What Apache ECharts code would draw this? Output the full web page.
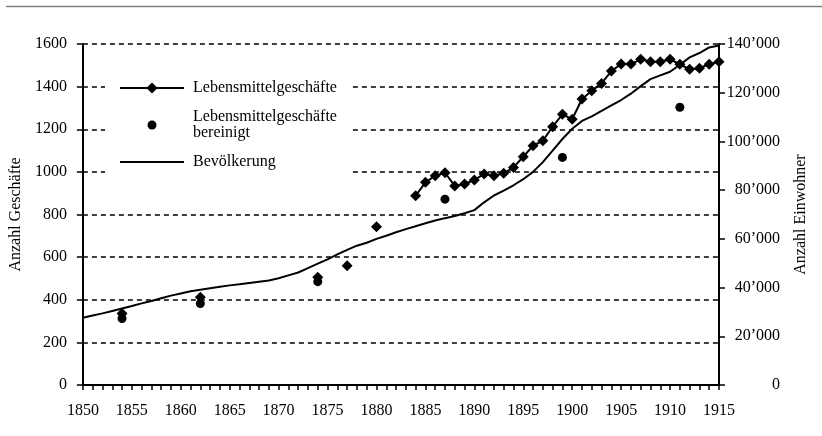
<!DOCTYPE html>
<html lang="de">
<head>
<meta charset="UTF-8">
<title>Lebensmittelgeschäfte und Bevölkerung 1850–1915</title>
<script src="https://cdn.jsdelivr.net/npm/echarts@6/dist/echarts.min.js"></script>
<style>
  html, body { margin: 0; padding: 0; background: #fff; }
  #chart { width: 822px; height: 436px; }
</style>
</head>
<body>
<div id="chart"></div>
<script>
// Lebensmittelgeschäfte: einzelne Stichjahre, dann jährlich ab 1884
var storeYears = [1854, 1862, 1874, 1877, 1880,
  1884, 1885, 1886, 1887, 1888, 1889, 1890, 1891, 1892, 1893, 1894,
  1895, 1896, 1897, 1898, 1899, 1900, 1901, 1902, 1903, 1904, 1905,
  1906, 1907, 1908, 1909, 1910, 1911, 1912, 1913, 1914, 1915];
var storeCounts = [336, 412, 505, 560, 743,
  888, 951, 982, 996, 934, 943, 962, 990, 982, 993, 1021,
  1071, 1123, 1146, 1212, 1270, 1247, 1342, 1381, 1415, 1473, 1506,
  1506, 1528, 1517, 1517, 1528, 1505, 1481, 1486, 1505, 1517];

// Lebensmittelgeschäfte bereinigt
var adjYears = [1854, 1862, 1874, 1887, 1899, 1911];
var adjCounts = [312, 382, 485, 872, 1068, 1303];

// Bevölkerung, jährlich 1850-1915
var popFirstYear = 1850;
var popValues = [
  27600, 28500, 29400, 30400, 31400, 32400, 33500, 34500, 35600, 36700,
  37600, 38500, 39100, 39700, 40300, 40900, 41400, 41900, 42400, 42900,
  43800, 45000, 46200, 48000, 49800, 51600, 53600, 55500, 57200, 58400,
  60000, 61300, 62700, 64000, 65200, 66400, 67500, 68500, 69400, 70500,
  71800, 75000, 77800, 79800, 82000, 84500, 87500, 91500, 96200, 101000,
  105200, 108400, 110300, 112500, 114800, 117000, 119600, 122700, 125600, 127100,
  128600, 131500, 134500, 136300, 138600, 139400];

var FONT = "'Liberation Serif', 'DejaVu Serif', serif";

// Lücken zwischen den Stichjahren, damit nur die Reihe ab 1884 verbunden ist
var storeData = [];
for (var i = 0; i < storeYears.length; i++) {
  if (i > 0 && storeYears[i] - storeYears[i - 1] > 1) {
    storeData.push([storeYears[i] - 0.5, '-']);
  }
  storeData.push([storeYears[i], storeCounts[i]]);
}
var adjData = adjYears.map(function (y, k) { return [y, adjCounts[k]]; });
var popData = popValues.map(function (v, k) { return [popFirstYear + k, v]; });

var legendText = { fontFamily: FONT, fontSize: 16, color: '#000', lineHeight: 16, padding: [0, 0, 0, 4] };

var chart = echarts.init(document.getElementById('chart'));
chart.setOption({
  animation: false,
  textStyle: { fontFamily: FONT, color: '#000' },
  grid: { left: 79, right: 103, top: 44, bottom: 51 },
  graphic: [{
    type: 'line',
    shape: { x1: 6, y1: 6.5, x2: 822, y2: 6.5 },
    style: { stroke: '#808080', lineWidth: 1.6 }
  }],
  // zwei Legenden, damit Raute und Punkt ihre eigene Grösse haben
  legend: [{
    orient: 'vertical',
    left: 105,
    top: 72,
    padding: [8, 12, 4, 14],
    itemWidth: 64,
    itemHeight: 14,
    backgroundColor: '#fff',
    selectedMode: false,
    data: ['Lebensmittelgeschäfte'],
    textStyle: legendText
  }, {
    orient: 'vertical',
    left: 105,
    top: 100,
    padding: [9, 12, 6, 14],
    itemGap: 13,
    itemWidth: 64,
    itemHeight: 9,
    backgroundColor: '#fff',
    selectedMode: false,
    data: ['Lebensmittelgeschäfte bereinigt', { name: 'Bevölkerung', itemStyle: { opacity: 0 } }],
    formatter: function (name) {
      return name === 'Lebensmittelgeschäfte bereinigt' ? 'Lebensmittelgeschäfte\nbereinigt' : name;
    },
    textStyle: legendText
  }],
  xAxis: {
    type: 'value',
    min: 1850,
    max: 1915,
    interval: 5,
    splitLine: { show: false },
    axisLine: { lineStyle: { color: '#000', width: 2 } },
    axisTick: { length: 5, lineStyle: { color: '#000', width: 1.5 } },
    minorTick: { show: true, splitNumber: 5, length: 5, lineStyle: { color: '#000', width: 1.5 } },
    axisLabel: {
      margin: 18, fontSize: 16, color: '#000', fontFamily: FONT,
      formatter: function (v) { return String(v); }
    }
  },
  yAxis: [{
    type: 'value',
    min: 0,
    max: 1600,
    interval: 200,
    name: 'Anzahl Geschäfte',
    nameLocation: 'middle',
    nameGap: 52,
    nameTextStyle: { fontFamily: FONT, fontSize: 16, color: '#000' },
    axisLine: { show: true, lineStyle: { color: '#000', width: 2 } },
    axisTick: { show: true, length: 6, lineStyle: { color: '#000', width: 1.5 } },
    splitLine: { show: true, lineStyle: { color: '#000', width: 1.5, type: [5, 4] } },
    axisLabel: {
      margin: 16, fontSize: 16, color: '#000', fontFamily: FONT,
      formatter: function (v) { return String(v); }
    }
  }, {
    type: 'value',
    position: 'right',
    min: 0,
    max: 140000,
    interval: 20000,
    name: 'Anzahl Einwohner',
    nameLocation: 'middle',
    nameGap: 74,
    nameTextStyle: { fontFamily: FONT, fontSize: 16, color: '#000' },
    axisLine: { show: true, lineStyle: { color: '#000', width: 2 } },
    axisTick: { show: true, length: 6, lineStyle: { color: '#000', width: 1.5 } },
    splitLine: { show: false },
    axisLabel: {
      margin: 61, align: 'right', fontSize: 16, color: '#000', fontFamily: FONT,
      formatter: function (v) { return v === 0 ? '0' : (v / 1000) + '\u2019000'; }
    }
  }],
  series: [{
    name: 'Lebensmittelgeschäfte',
    type: 'line',
    yAxisIndex: 0,
    data: storeData,
    symbol: 'diamond',
    symbolSize: 11,
    showSymbol: true,
    connectNulls: false,
    itemStyle: { color: '#000' },
    lineStyle: { color: '#000', width: 2 },
    z: 3
  }, {
    name: 'Lebensmittelgeschäfte bereinigt',
    type: 'scatter',
    yAxisIndex: 0,
    data: adjData,
    symbol: 'circle',
    symbolSize: 9,
    itemStyle: { color: '#000', opacity: 1 },
    z: 3
  }, {
    name: 'Bevölkerung',
    type: 'line',
    yAxisIndex: 1,
    data: popData,
    symbol: 'none',
    itemStyle: { color: '#000' },
    lineStyle: { color: '#000', width: 2 },
    z: 2
  }]
});
</script>
</body>
</html>
